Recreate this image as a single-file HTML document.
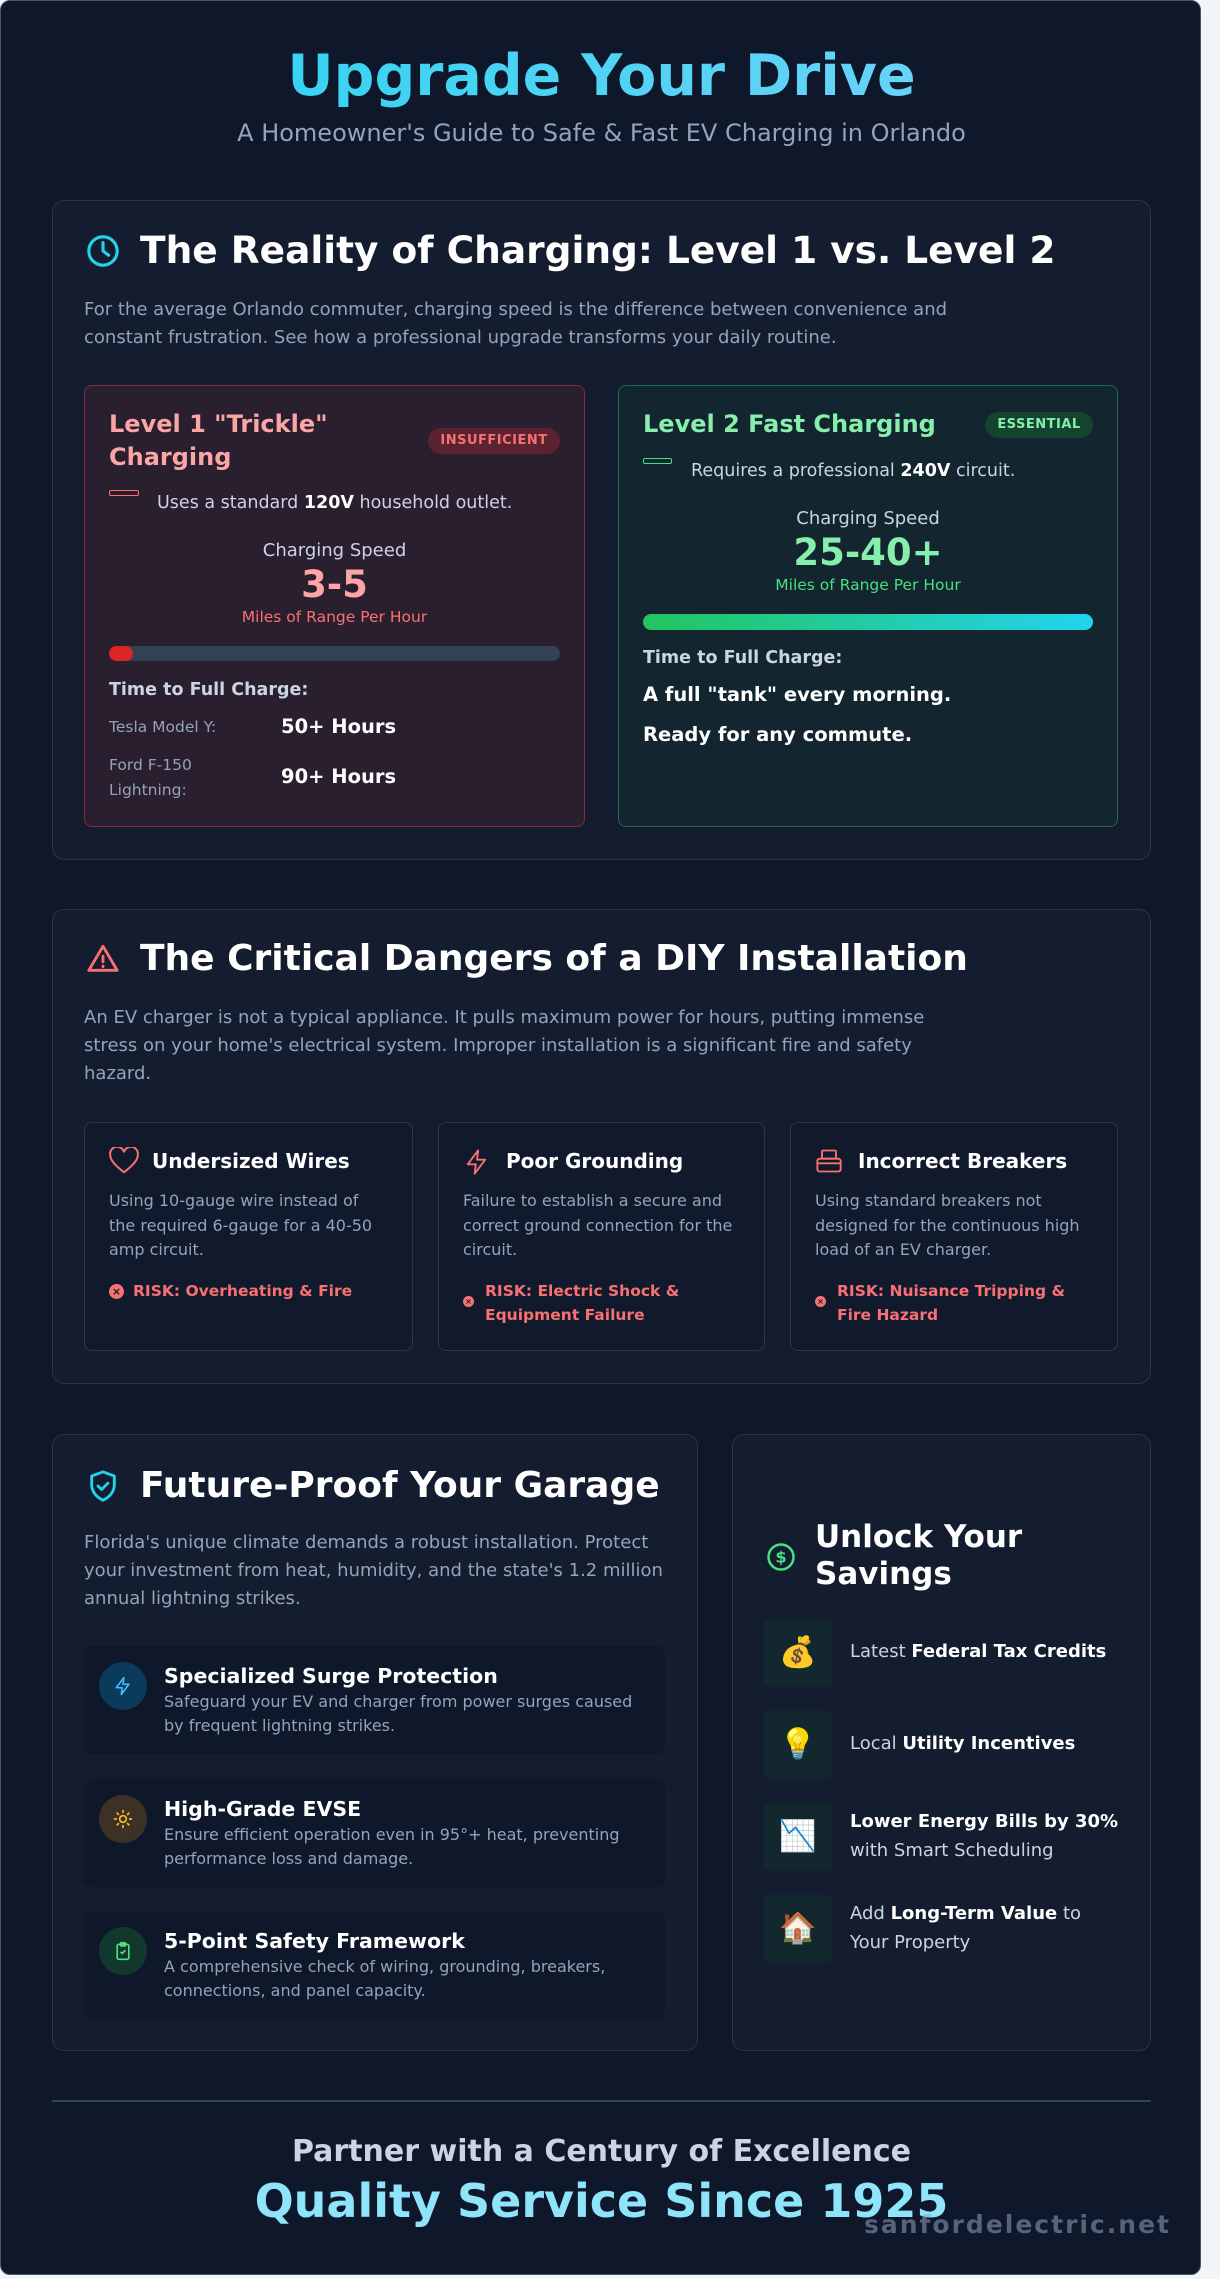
<!DOCTYPE html>
<html><head><meta charset="utf-8"><style>
*{margin:0;padding:0;box-sizing:border-box}
body{width:1220px;height:2279px;background:#f3f4f6;font-family:"DejaVu Sans","Liberation Sans",sans-serif;position:relative;overflow:hidden}
.abs{position:absolute}
#page{position:absolute;left:0;top:0;width:1201px;height:2275px;background:#0f172a;border:1px solid #475569;border-radius:10px;overflow:hidden}
.sec{position:absolute;background:#141d2f;border:1px solid #273449;border-radius:12px}
.h2{position:absolute;color:#fff;font-weight:bold;font-size:36px;white-space:nowrap}
.p{position:absolute;color:#94a3b8;font-size:18px;line-height:28px}
.c{position:absolute;white-space:nowrap}
.card{position:absolute;border-radius:8px}
.dc{position:absolute;background:#111a2d;border:1px solid #2b3649;border-radius:8px;top:1121px;height:229px}
.dc .t{position:absolute;left:67px;top:26px;color:#fff;font-weight:bold;font-size:20px;white-space:nowrap}
.dc .d{position:absolute;left:24px;top:66px;width:280px;color:#94a3b8;font-size:16px;line-height:24.5px}
.dc .r{position:absolute;left:48px;color:#f87171;font-weight:bold;font-size:15.5px;line-height:24px}
.dc .x{position:absolute;left:24px;width:15px;height:15px;border-radius:50%;background:#f87171;color:#111a2d;font-size:11px;font-weight:bold;text-align:center;line-height:15px}
.fb{position:absolute;left:83px;width:581px;height:108px;background:#0f172a;border-radius:8px}
.fb .ic{position:absolute;left:15px;top:16px;width:48px;height:48px;border-radius:50%}
.fb .t{position:absolute;left:80px;top:18px;color:#fff;font-weight:bold;font-size:20.5px;white-space:nowrap}
.fb .d{position:absolute;left:80px;top:44px;width:490px;color:#94a3b8;font-size:16px;line-height:24px}
.sv{position:absolute;left:763px;width:68px;height:68px;background:#13282e;border-radius:6px;text-align:center;line-height:68px;font-size:30px;font-family:"Noto Color Emoji","DejaVu Sans",sans-serif}
.st{position:absolute;left:849px;color:#cbd5e1;font-size:18px;line-height:29px;width:272px}
.st b{color:#fff}
</style></head><body>
<div id="page">
<div class="c" style="left:0;width:1201px;text-align:center;top:42px;font-size:57px;font-weight:bold;background:linear-gradient(90deg,#22d3ee,#7dd3fc);-webkit-background-clip:text;background-clip:text;color:transparent">Upgrade Your Drive</div>
<div class="c" style="left:0;width:1201px;text-align:center;top:118px;font-size:24px;color:#94a3b8">A Homeowner's Guide to Safe &amp; Fast EV Charging in Orlando</div>

<!-- section 1 -->
<div class="sec" style="left:51px;top:199px;width:1099px;height:660px"></div>
<svg class="abs" style="left:85px;top:233px" width="34" height="34" viewBox="0 0 24 24" fill="none" stroke="#22d3ee" stroke-width="2.2" stroke-linecap="round"><circle cx="12" cy="12" r="10"/><path d="M12 6v6l4 3"/></svg>
<div class="h2" style="left:139px;top:227px;font-size:37.5px">The Reality of Charging: Level 1 vs. Level 2</div>
<div class="p" style="left:83px;top:295px;width:900px">For the average Orlando commuter, charging speed is the difference between convenience and constant frustration. See how a professional upgrade transforms your daily routine.</div>

<div class="card" style="left:83px;top:384px;width:501px;height:442px;background:#2a1f2f;border:1px solid #7f2d3a"></div>
<div class="c" style="left:108px;top:407px;color:#fca5a5;font-weight:bold;font-size:24px;line-height:33px">Level 1 "Trickle"<br>Charging</div>
<div class="c" style="left:427px;top:427px;width:132px;height:26px;border-radius:13px;background:#5b2230;color:#f87171;font-weight:bold;font-size:13px;text-align:center;line-height:26px;letter-spacing:.5px">INSUFFICIENT</div>
<div class="abs" style="left:108px;top:489px;width:30px;height:6px;border:1px solid #f87171;border-radius:2px"></div>
<div class="c" style="left:156px;top:492px;color:#cbd5e1;font-size:17.5px">Uses a standard <b style="color:#fff">120V</b> household outlet.</div>
<div class="c" style="left:83px;width:501px;text-align:center;top:539px;color:#cbd5e1;font-size:18px">Charging Speed</div>
<div class="c" style="left:83px;width:501px;text-align:center;top:562px;color:#fca5a5;font-size:37px;font-weight:bold">3-5</div>
<div class="c" style="left:83px;width:501px;text-align:center;top:607px;color:#f87171;font-size:15.5px">Miles of Range Per Hour</div>
<div class="abs" style="left:108px;top:645px;width:451px;height:15px;border-radius:8px;background:#334155"><div style="width:24px;height:15px;border-radius:8px;background:#dc2626"></div></div>
<div class="c" style="left:108px;top:679px;color:#cbd5e1;font-weight:bold;font-size:17.5px">Time to Full Charge:</div>
<div class="c" style="left:108px;top:717px;color:#94a3b8;font-size:15.5px">Tesla Model Y:</div>
<div class="c" style="left:280px;top:714px;color:#fff;font-weight:bold;font-size:19.5px">50+ Hours</div>
<div class="c" style="left:108px;top:752px;color:#94a3b8;font-size:15.5px;line-height:25px">Ford F-150<br>Lightning:</div>
<div class="c" style="left:280px;top:764px;color:#fff;font-weight:bold;font-size:19.5px">90+ Hours</div>

<div class="card" style="left:617px;top:384px;width:500px;height:442px;background:#13252f;border:1px solid #1f6b4a"></div>
<div class="c" style="left:642px;top:407px;color:#86efac;font-weight:bold;font-size:24px;line-height:33px">Level 2 Fast Charging</div>
<div class="c" style="left:984px;top:411px;width:108px;height:26px;border-radius:13px;background:#14432f;color:#86efac;font-weight:bold;font-size:13px;text-align:center;line-height:26px;letter-spacing:.5px">ESSENTIAL</div>
<div class="abs" style="left:642px;top:457px;width:29px;height:6px;border:1px solid #4ade80;border-radius:2px"></div>
<div class="c" style="left:690px;top:460px;color:#cbd5e1;font-size:17.5px">Requires a professional <b style="color:#fff">240V</b> circuit.</div>
<div class="c" style="left:617px;width:500px;text-align:center;top:507px;color:#cbd5e1;font-size:18px">Charging Speed</div>
<div class="c" style="left:617px;width:500px;text-align:center;top:530px;color:#86efac;font-size:37px;font-weight:bold">25-40+</div>
<div class="c" style="left:617px;width:500px;text-align:center;top:575px;color:#4ade80;font-size:15.5px">Miles of Range Per Hour</div>
<div class="abs" style="left:642px;top:613px;width:450px;height:16px;border-radius:8px;background:linear-gradient(90deg,#22c55e,#22d3ee)"></div>
<div class="c" style="left:642px;top:647px;color:#cbd5e1;font-weight:bold;font-size:17.5px">Time to Full Charge:</div>
<div class="c" style="left:642px;top:682px;color:#fff;font-weight:bold;font-size:19.5px">A full "tank" every morning.</div>
<div class="c" style="left:642px;top:722px;color:#fff;font-weight:bold;font-size:19.5px">Ready for any commute.</div>

<!-- section 2 -->
<div class="sec" style="left:51px;top:908px;width:1099px;height:475px"></div>
<svg class="abs" style="left:85px;top:941px" width="34" height="34" viewBox="0 0 24 24" fill="none" stroke="#f87171" stroke-width="2" stroke-linejoin="round" stroke-linecap="round"><path d="M12 3L2 20h20z"/><path d="M12 10v4M12 17v.5"/></svg>
<div class="h2" style="left:139px;top:937px">The Critical Dangers of a DIY Installation</div>
<div class="p" style="left:83px;top:1003px;width:870px">An EV charger is not a typical appliance. It pulls maximum power for hours, putting immense stress on your home's electrical system. Improper installation is a significant fire and safety hazard.</div>

<div class="dc" style="left:83px;width:329px">
<svg class="abs" style="left:24px;top:24px" width="30" height="28" viewBox="0 0 24 22" fill="none" stroke="#f87171" stroke-width="1.6"><path d="M12 20C4 14 1 10 1 6.5A5 5 0 0 1 12 4a5 5 0 0 1 11 2.5C23 10 20 14 12 20z"/></svg>
<div class="t">Undersized Wires</div>
<div class="d">Using 10-gauge wire instead of the required 6-gauge for a 40-50 amp circuit.</div>
<div class="x" style="top:161px">×</div><div class="r" style="top:156px">RISK: Overheating &amp; Fire</div>
</div>
<div class="dc" style="left:437px;width:327px">
<svg class="abs" style="left:24px;top:24px" width="28" height="30" viewBox="0 0 24 24" fill="none" stroke="#f87171" stroke-width="1.6" stroke-linejoin="round"><path d="M13 2L4 14h7l-1 8 9-12h-7z"/></svg>
<div class="t">Poor Grounding</div>
<div class="d">Failure to establish a secure and correct ground connection for the circuit.</div>
<div class="x" style="top:173px;width:11px;height:11px;line-height:11px;font-size:8px">×</div><div class="r" style="top:156px;left:46px">RISK: Electric Shock &amp;<br>Equipment Failure</div>
</div>
<div class="dc" style="left:789px;width:328px">
<svg class="abs" style="left:24px;top:24px" width="28" height="28" viewBox="0 0 24 24" fill="none" stroke="#f87171" stroke-width="1.6"><rect x="2" y="10" width="20" height="11" rx="2"/><rect x="6" y="3" width="12" height="7" rx="1"/><path d="M2 14h20"/></svg>
<div class="t">Incorrect Breakers</div>
<div class="d">Using standard breakers not designed for the continuous high load of an EV charger.</div>
<div class="x" style="top:173px;width:11px;height:11px;line-height:11px;font-size:8px">×</div><div class="r" style="top:156px;left:46px">RISK: Nuisance Tripping &amp;<br>Fire Hazard</div>
</div>

<!-- section 3 left -->
<div class="sec" style="left:51px;top:1433px;width:646px;height:617px"></div>
<svg class="abs" style="left:85px;top:1467px" width="34" height="36" viewBox="0 0 24 24" fill="none" stroke="#22d3ee" stroke-width="2" stroke-linejoin="round" stroke-linecap="round"><path d="M12 2l8 3v6c0 5-3.5 9-8 11-4.5-2-8-6-8-11V5z"/><path d="M8.5 12l2.5 2.5 4.5-4.5"/></svg>
<div class="h2" style="left:139px;top:1464px">Future-Proof Your Garage</div>
<div class="p" style="left:83px;top:1528px;width:590px">Florida's unique climate demands a robust installation. Protect your investment from heat, humidity, and the state's 1.2 million annual lightning strikes.</div>

<div class="fb" style="top:1645px"><div class="ic" style="background:#0c3a5a"></div>
<svg class="abs" style="left:29px;top:30px" width="20" height="20" viewBox="0 0 24 24" fill="none" stroke="#38bdf8" stroke-width="2" stroke-linejoin="round"><path d="M13 2L4 14h7l-1 8 9-12h-7z"/></svg>
<div class="t">Specialized Surge Protection</div><div class="d">Safeguard your EV and charger from power surges caused by frequent lightning strikes.</div></div>
<div class="fb" style="top:1778px"><div class="ic" style="background:#3d3125"></div>
<svg class="abs" style="left:29px;top:30px" width="20" height="20" viewBox="0 0 24 24" fill="none" stroke="#fbbf24" stroke-width="2" stroke-linecap="round"><circle cx="12" cy="12" r="4"/><path d="M12 2v2M12 20v2M2 12h2M20 12h2M5 5l1.5 1.5M17.5 17.5L19 19M5 19l1.5-1.5M17.5 6.5L19 5"/></svg>
<div class="t">High-Grade EVSE</div><div class="d">Ensure efficient operation even in 95°+ heat, preventing performance loss and damage.</div></div>
<div class="fb" style="top:1910px"><div class="ic" style="background:#12382e"></div>
<svg class="abs" style="left:29px;top:29px" width="20" height="22" viewBox="0 0 24 24" fill="none" stroke="#4ade80" stroke-width="2" stroke-linejoin="round"><rect x="5" y="4" width="14" height="18" rx="2"/><rect x="9" y="2" width="6" height="4" rx="1"/><path d="M9 13l2 2 4-4"/></svg>
<div class="t">5-Point Safety Framework</div><div class="d">A comprehensive check of wiring, grounding, breakers, connections, and panel capacity.</div></div>

<!-- section 3 right -->
<div class="sec" style="left:731px;top:1433px;width:419px;height:617px"></div>
<svg class="abs" style="left:765px;top:1541px" width="30" height="30" viewBox="0 0 24 24" fill="none" stroke="#4ade80" stroke-width="2"><circle cx="12" cy="12" r="10"/><text x="12" y="16.5" text-anchor="middle" font-size="13" font-weight="bold" fill="#4ade80" stroke="none" font-family="DejaVu Sans">$</text></svg>
<div class="c" style="left:814px;top:1518px;color:#fff;font-weight:bold;font-size:31px;line-height:37px">Unlock Your<br>Savings</div>
<div class="sv" style="top:1618px">💰</div><div class="st" style="top:1636px">Latest <b>Federal Tax Credits</b></div>
<div class="sv" style="top:1710px">💡</div><div class="st" style="top:1728px">Local <b>Utility Incentives</b></div>
<div class="sv" style="top:1802px">📉</div><div class="st" style="top:1806px"><b>Lower Energy Bills by 30%</b> with Smart Scheduling</div>
<div class="sv" style="top:1894px">🏠</div><div class="st" style="top:1898px;width:240px">Add <b>Long-Term Value</b> to Your Property</div>

<div class="abs" style="left:51px;top:2099px;width:1099px;height:2px;background:#334155"></div>
<div class="c" style="left:0;width:1201px;text-align:center;top:2133px;color:#cbd5e1;font-weight:bold;font-size:30px">Partner with a Century of Excellence</div>
<div class="c" style="left:0;width:1201px;text-align:center;top:2173px;font-weight:bold;font-size:46px;color:#8ee4f8">Quality Service Since 1925</div>
<div class="c" style="left:863px;top:2209px;color:rgba(148,163,184,.55);font-weight:bold;font-size:25px;letter-spacing:2px">sanfordelectric.net</div>
</div>
</body></html>
